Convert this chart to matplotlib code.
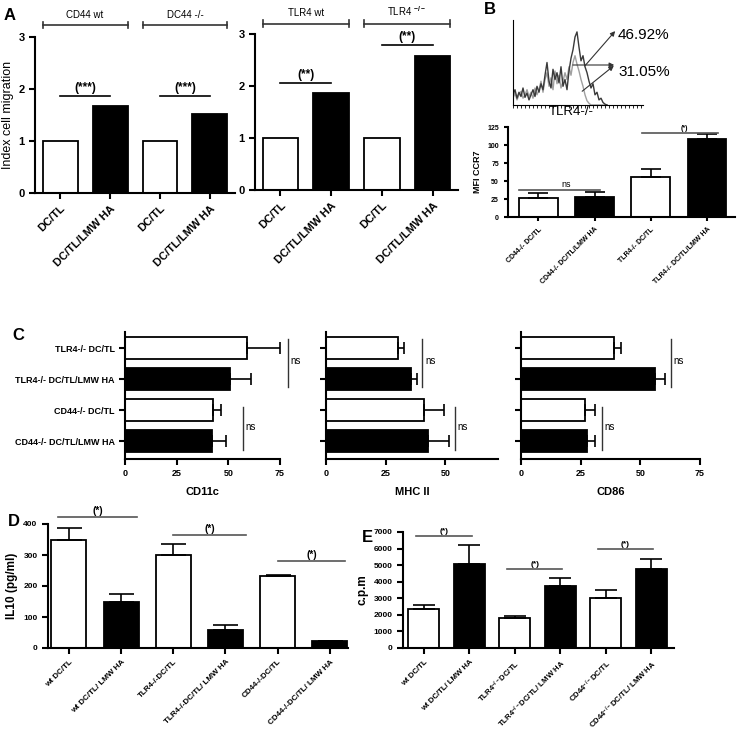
import matplotlib
matplotlib.use('Agg')
import matplotlib.pyplot as plt
from matplotlib.ticker import MultipleLocator

plt.rcParams['font.family'] = ['Liberation Sans', 'DejaVu Sans']
plt.rcParams['font.weight'] = 'bold'
plt.rcParams['axes.labelweight'] = 'bold'
plt.rcParams['mathtext.fontset'] = 'custom'
plt.rcParams['mathtext.rm'] = 'Liberation Sans:bold'
plt.rcParams['mathtext.bf'] = 'Liberation Sans:bold'
plt.rcParams['mathtext.default'] = 'bf'

# ---- данные ----
# A: индекс миграции
a_labels = ['DC/TL', 'DC/TL/LMW HA', 'DC/TL', 'DC/TL/LMW HA']
a_cd44 = [1.0, 1.68, 1.0, 1.52]
a_tlr4 = [1.0, 1.87, 1.0, 2.58]
a_groups_cd44 = ['CD44 wt', 'DC44 -/-']
a_groups_tlr4 = ['TLR4 wt', 'TLR4 $^{-/-}$']
a_sig_cd44 = ['(***)', '(***)']
a_sig_cd44_y = [1.87, 1.87]
a_sig_tlr4 = ['(**)', '(**)']
a_sig_tlr4_y = [2.06, 2.79]

# B: гистограмма TLR4-/- и MFI CCR7
hist_dark = [12, 18, 8, 15, 10, 20, 9, 14, 6, 12, 18, 10, 22, 15, 25, 18,
             35, 50, 28, 20, 42, 30, 38, 26, 45, 22, 30, 18, 40, 55, 65, 80,
             86, 68, 52, 58, 45, 38, 28, 20, 25, 12, 15, 6, 8, 3, 1, 0]
hist_light = [8, 14, 6, 12, 16, 8, 12, 18, 10, 15, 8, 20, 12, 18, 28, 15,
              30, 38, 22, 32, 18, 40, 25, 35, 20, 28, 38, 30, 45, 35, 50, 58,
              48, 40, 30, 22, 12, 5, 2, 0, 0, 0, 0, 0, 0, 0, 0, 0]
b_labels = ['CD44-/- DC/TL', 'CD44-/- DC/TL/LMW HA', 'TLR4-/- DC/TL', 'TLR4-/- DC/TL/LMW HA']
b_mfi = [27, 28, 56, 109]
b_err = [6, 7, 10, 6]

# C: поверхностные маркеры (сверху вниз)
c_labels = ['TLR4-/- DC/TL', 'TLR4-/- DC/TL/LMW HA', 'CD44-/- DC/TL', 'CD44-/- DC/TL/LMW HA']
c_cd11c = [59, 51, 42.5, 42]
c_cd11c_err = [16, 10, 4, 7]
c_mhc = [30, 35.5, 41, 42.5]
c_mhc_err = [2.5, 2.5, 8.5, 9]
c_cd86 = [39, 56, 27, 27.5]
c_cd86_err = [3, 4.5, 4, 3.5]

# D: IL10
d_labels = ['wt DC/TL', 'wt DC/TL/ LMW HA', 'TLR4-/-DC/TL', 'TLR4-/-DC/TL/ LMW HA',
            'CD44-/-DC/TL', 'CD44-/-DC/TL/ LMW HA']
d_il10 = [350, 148, 300, 58, 232, 23]
d_err = [37, 26, 35, 16, 3, 0]

# E: пролиферация
e_labels = ['wt DC/TL', 'wt DC/TL/ LMW HA', 'TLR4$^{-/-}$DC/TL', 'TLR4$^{-/-}$DC/TL/ LMW HA',
            'CD44$^{-/-}$DC/TL', 'CD44$^{-/-}$DC/TL/ LMW HA']
e_cpm = [2350, 5050, 1830, 3750, 3000, 4750]
e_err = [250, 1150, 120, 500, 500, 600]

W, H = 738, 733
fig = plt.figure(figsize=(W / 100, H / 100), dpi=100)


def px_axes(x0, y0, x1, y1):
    return fig.add_axes([x0 / W, 1 - y1 / H, (x1 - x0) / W, (y1 - y0) / H])


def ftext(x, y, s, **kw):
    fig.text(x / W, 1 - y / H, s, **kw)


def style(ax, lw=1.5, size=7):
    for s in ['top', 'right']:
        ax.spines[s].set_visible(False)
    for s in ['left', 'bottom']:
        ax.spines[s].set_linewidth(lw)
    ax.tick_params(width=lw, length=4, labelsize=size)


colors4 = ['white', 'black', 'white', 'black']
colors6 = ['white', 'black'] * 3

# ======== A ========
for (x0, x1, top), vals, groups, sig, sig_y, gy in [
        ((35, 235, 37), a_cd44, a_groups_cd44, a_sig_cd44, a_sig_cd44_y, 3.23),
        ((255, 458, 34), a_tlr4, a_groups_tlr4, a_sig_tlr4, a_sig_tlr4_y, 3.2)]:
    ax = px_axes(x0, top, x1, top + 156)
    pos = range(len(vals))
    ax.bar(pos, vals, width=0.7, color=colors4, edgecolor='black', linewidth=1.3)
    ax.set_xlim(-0.5, 3.5)
    ax.set_ylim(0, 3)
    ax.set_yticks([0, 1, 2, 3])
    ax.set_xticks(list(pos))
    ax.set_xticklabels(a_labels, rotation=45, ha='right', rotation_mode='anchor')
    style(ax, size=8)
    for k in range(2):
        xa, xb = 2 * k - 0.35, 2 * k + 1.35
        ax.plot([xa, xb], [gy, gy], color='#333333', lw=1.2, clip_on=False)
        ax.plot([xa, xa], [gy - 0.06, gy + 0.06], color='#333333', lw=1.2, clip_on=False)
        ax.plot([xb, xb], [gy - 0.06, gy + 0.06], color='#333333', lw=1.2, clip_on=False)
        ax.text(2 * k + 0.5, gy + 0.1, groups[k], ha='center', va='bottom',
                fontsize=7, fontweight='normal')
        ax.plot([2 * k, 2 * k + 1], [sig_y[k], sig_y[k]], color='black', lw=1.2, clip_on=False)
        ax.text(2 * k + 0.5, sig_y[k] + 0.04, sig[k], ha='center', va='bottom', fontsize=8.5)
    if x0 == 35:
        ax.set_ylabel('Index cell migration', fontsize=9, fontweight='normal', labelpad=3)

ftext(4, 15, 'A', fontsize=12, va='center')

# ======== B ========
ftext(484, 9, 'B', fontsize=12, va='center')
axh = px_axes(513, 20, 643, 105)
ch = range(len(hist_dark))
axh.plot(ch, hist_light, color='#a0a0a0', lw=1.0)
axh.plot(ch, hist_dark, color='#3a3a3a', lw=1.0)
axh.set_xlim(0, 65)
axh.set_ylim(0, 100)
for s in ['top', 'right']:
    axh.spines[s].set_visible(False)
axh.spines['left'].set_linewidth(0.8)
axh.spines['bottom'].set_linewidth(0.8)
axh.set_yticks([])
axh.set_xticks([])
axh.xaxis.set_minor_locator(MultipleLocator(2))
axh.tick_params(axis='x', which='minor', length=2, width=0.6)
ftext(571, 112, 'TLR4-/-', fontsize=9.5, ha='center', va='center', fontweight='normal')
arr = dict(arrowstyle='-|>', color='#333333', lw=0.8, mutation_scale=7)
fig.add_artist(matplotlib.patches.FancyArrowPatch((583 / W, 1 - 68 / H), (617 / W, 1 - 29 / H),
                                                  transform=fig.transFigure, **arr))
fig.add_artist(matplotlib.patches.FancyArrowPatch((580 / W, 1 - 93 / H), (616 / W, 1 - 64 / H),
                                                  transform=fig.transFigure, **arr))
fig.add_artist(matplotlib.patches.FancyArrowPatch((570 / W, 1 - 65 / H), (617 / W, 1 - 65 / H),
                                                  transform=fig.transFigure, **arr))
ftext(618, 35, '46.92%', fontsize=11, va='center', fontweight='normal')
ftext(618, 72, '31.05%', fontsize=11, va='center', fontweight='normal')

axb = px_axes(508, 127, 735, 217)
pos = range(len(b_mfi))
axb.bar(pos, b_mfi, width=0.69, color=colors4, edgecolor='black', linewidth=1.3)
axb.errorbar(pos, b_mfi, yerr=[[0] * 4, b_err], fmt='none', ecolor='black',
             elinewidth=1.2, capsize=7, capthick=1.2)
axb.set_xlim(-0.54, 3.5)
axb.set_ylim(0, 125)
axb.set_yticks([0, 25, 50, 75, 100, 125])
axb.set_xticks(list(pos))
axb.set_xticklabels(b_labels, rotation=45, ha='right', rotation_mode='anchor')
style(axb, size=5)
axb.tick_params(length=3)
axb.set_ylabel('MFI CCR7', fontsize=6.5, labelpad=4)
axb.plot([-0.35, 1.1], [38, 38], color='#555555', lw=1.2)
axb.text(0.5, 39, 'ns', ha='center', va='bottom', fontsize=6.5, fontweight='normal')
axb.plot([1.85, 3.2], [117, 117], color='#555555', lw=1.2, clip_on=False)
axb.text(2.6, 118, '(*)', ha='center', va='bottom', fontsize=5)

# ======== C ========
ftext(12, 335, 'C', fontsize=12, va='center')
ypos = [3, 2, 1, 0]
c_panels = [
    ((125, 280), 75, c_cd11c, c_cd11c_err, 'CD11c', [0, 25, 50, 75], 79, 57),
    ((326, 498), 72, c_mhc, c_mhc_err, 'MHC II', [0, 25, 50], 40.3, 53.8),
    ((521, 700), 75, c_cd86, c_cd86_err, 'CD86', [0, 25, 50, 75], 62.8, 33.9),
]
for i, ((x0, x1), xmax, vals, err, name, xt, ns_up, ns_low) in enumerate(c_panels):
    ax = px_axes(x0, 332, x1, 459)
    ax.barh(ypos, vals, height=0.7, color=colors4, edgecolor='black', linewidth=1.3)
    ax.errorbar(vals, ypos, xerr=[[0] * 4, err], fmt='none', ecolor='black',
                elinewidth=1.2, capsize=4, capthick=1.2)
    ax.set_xlim(0, xmax)
    ax.set_ylim(-0.58, 3.52)
    ax.set_xticks(xt)
    ax.set_yticks(ypos)
    if i == 0:
        ax.set_yticklabels(c_labels)
    else:
        ax.set_yticklabels([])
    style(ax, size=6.5)
    ax.set_xlabel(name, fontsize=8, labelpad=6)
    for xv, (ya, yb) in [(ns_up, (3.3, 1.75)), (ns_low, (1.1, -0.3))]:
        ax.plot([xv, xv], [ya, yb], color='#333333', lw=1.0, clip_on=False)
        ax.text(xv + 1.2, (ya + yb) / 2 + 0.05, 'ns', fontsize=7, fontweight='normal',
                va='center', ha='left', clip_on=False)

# ======== D ========
ftext(8, 522, 'D', fontsize=12, va='center')
axd = px_axes(48, 524, 348, 648)
pos = range(len(d_il10))
axd.bar(pos, d_il10, width=0.67, color=colors6, edgecolor='black', linewidth=1.3)
axd.errorbar(pos, d_il10, yerr=[[0] * 6, d_err], fmt='none', ecolor='black',
             elinewidth=1.2, capsize=9, capthick=1.2)
axd.set_xlim(-0.4, 5.35)
axd.set_ylim(0, 400)
axd.set_yticks([0, 100, 200, 300, 400])
axd.set_xticks(list(pos))
axd.set_xticklabels(d_labels, rotation=45, ha='right', rotation_mode='anchor')
style(axd, size=6)
axd.tick_params(axis='x', labelsize=5.8)
axd.set_ylabel('IL10 (pg/ml)', fontsize=8.5, labelpad=4)
for xa, xb, yv in [(-0.2, 1.3, 422), (2.0, 3.4, 364), (4.0, 5.3, 280)]:
    axd.plot([xa, xb], [yv, yv], color='#555555', lw=1.2, clip_on=False)
    axd.text((xa + xb) / 2, yv + 4, '(*)', ha='center', va='bottom', fontsize=7)

# ======== E ========
ftext(362, 537, 'E', fontsize=12, va='center')
axe = px_axes(403, 532, 674, 648)
pos = range(len(e_cpm))
axe.bar(pos, e_cpm, width=0.68, color=colors6, edgecolor='black', linewidth=1.3)
axe.errorbar(pos, e_cpm, yerr=[[0] * 6, e_err], fmt='none', ecolor='black',
             elinewidth=1.2, capsize=8, capthick=1.2)
axe.set_xlim(-0.46, 5.5)
axe.set_ylim(0, 7000)
axe.set_yticks(range(0, 7001, 1000))
axe.set_xticks(list(pos))
axe.set_xticklabels(e_labels, rotation=45, ha='right', rotation_mode='anchor')
style(axe, size=6)
axe.tick_params(axis='x', labelsize=5.6)
axe.set_ylabel('c.p.m', fontsize=8.5, labelpad=4)
for xa, xb, yv in [(-0.18, 1.06, 6750), (1.83, 3.04, 4750), (3.83, 5.04, 6000)]:
    axe.plot([xa, xb], [yv, yv], color='#555555', lw=1.2, clip_on=False)
    axe.text((xa + xb) / 2, yv + 60, '(*)', ha='center', va='bottom', fontsize=6)

fig.savefig('out.png', dpi=100, facecolor='white')
